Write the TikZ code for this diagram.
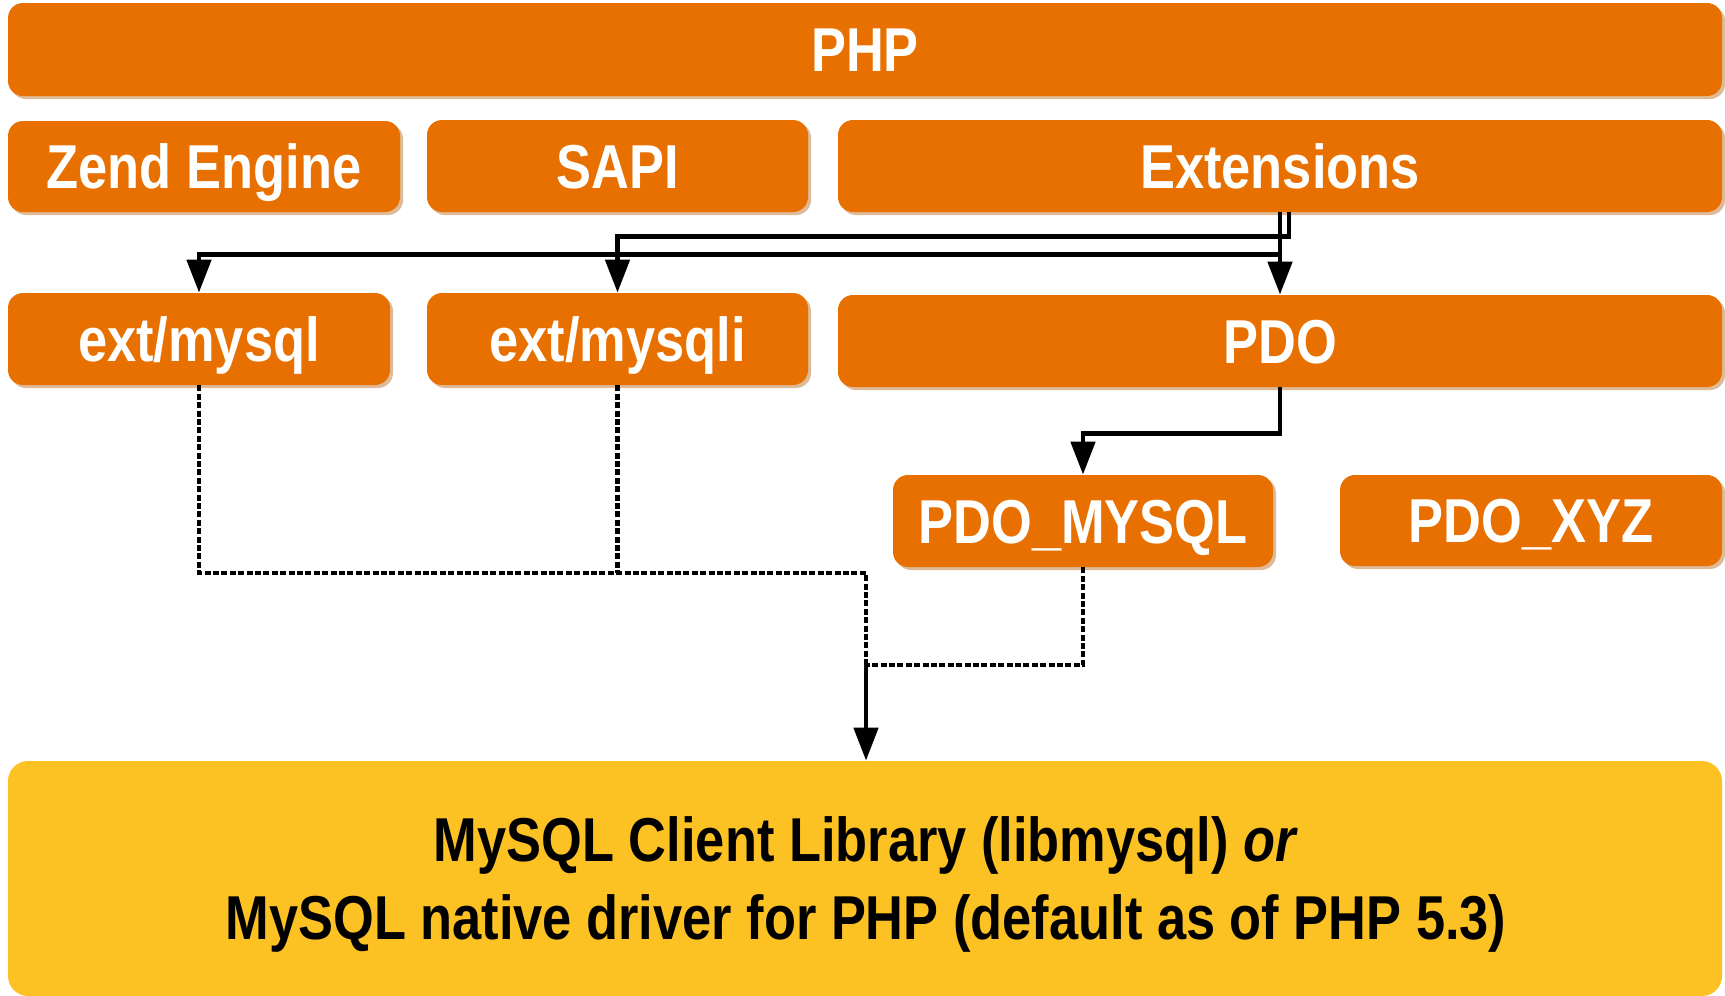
\documentclass[tikz,border=0pt]{standalone}
\usepackage{fontspec}
\setmainfont[FakeStretch=0.845]{Liberation Sans}
\usetikzlibrary{arrows.meta,shadows}
\definecolor{php}{RGB}{232,112,0}
\definecolor{libc}{RGB}{252,194,36}
\definecolor{shad}{RGB}{222,186,152}
\begin{document}
\begin{tikzpicture}[x=0.5pt,y=-0.5pt,
  obox/.style={rectangle,rounded corners=7.5pt,fill=php,text=white,inner sep=0pt,
    font=\fontsize{31}{37}\selectfont\bfseries,text height=22.2pt,text depth=0pt,
    drop shadow={shadow xshift=1.5pt,shadow yshift=-1.5pt,fill=shad,opacity=1}},
  arr/.style={line width=2.4pt,-{Triangle[width=12pt,length=16.5pt]}},
  dots/.style={line width=2.4pt,dash pattern=on 3pt off 1.2pt}]
\useasboundingbox (0,0) rectangle (1725,996);
\node[obox,minimum width=857pt,minimum height=46.5pt] (php) at (865,49.5) {PHP};
\node[obox,minimum width=196pt,minimum height=45.5pt] (zend) at (204,166.5) {Zend Engine};
\node[obox,minimum width=190.5pt,minimum height=46pt] (sapi) at (617.5,166) {SAPI};
\node[obox,minimum width=442pt,minimum height=46pt] (ext) at (1280,166) {Extensions};
\node[obox,minimum width=191pt,minimum height=46pt] (mysql) at (199,339) {ext/mysql};
\node[obox,minimum width=190.5pt,minimum height=46pt] (mysqli) at (617.5,339) {ext/mysqli};
\node[obox,minimum width=442pt,minimum height=46pt] (pdo) at (1280,341) {PDO};
\node[obox,minimum width=190pt,minimum height=46pt] (pdomysql) at (1083,521) {PDO\_MYSQL};
\node[obox,minimum width=191pt,minimum height=45.5pt] (pdoxyz) at (1531,520.5) {PDO\_XYZ};
\node[rectangle,rounded corners=10pt,fill=libc,inner sep=0pt,minimum width=857pt,minimum height=117.5pt] (lib) at (865,878.5) {};
\node[align=center,font=\fontsize{31}{39}\selectfont\bfseries,inner sep=0pt] (libtext) at (866,884)
  {MySQL Client Library (libmysql) \textit{or}\\MySQL native driver for PHP (default as of PHP 5.3)};
% solid connectors
\draw[arr] ([xshift=4.5pt]ext.south) -- ++(0,24) -| (mysqli.north);
\draw[arr] (ext.south) -- ++(0,42) -| (mysql.north);
\draw[arr] (ext.south) -- (pdo.north);
\draw[arr] (pdo.south) -- ++(0,46) -| (pdomysql.north);
% dotted connectors
\coordinate (j1) at (866,573);
\coordinate (j2) at (866,665);
\draw[dots] (mysql.south) |- (j1) -- (j2);
\draw[dots] (mysqli.south) -- (mysqli.south |- j1);
\draw[dots] (pdomysql.south) |- (j2);
\draw[arr] (j2) -- (lib.north -| j2);
\end{tikzpicture}
\end{document}
